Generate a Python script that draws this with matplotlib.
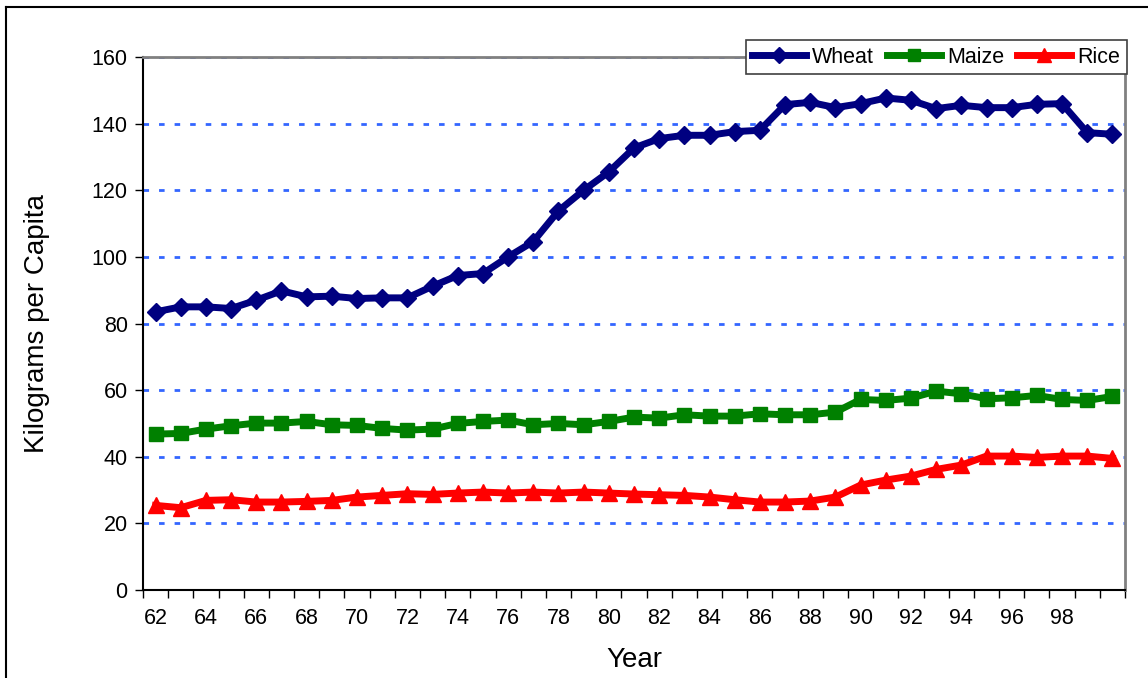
import matplotlib
matplotlib.use("Agg")
from matplotlib import pyplot as plt
from matplotlib.lines import Line2D
import numpy as np

plt.rcParams['font.family'] = ['Liberation Sans', 'DejaVu Sans']

years = list(range(62, 101))
wheat = [83.5, 85.0, 85.0, 84.5, 87.0, 89.8, 88.0, 88.2, 87.5, 87.7,
         87.7, 91.2, 94.4, 95.0, 100.0, 104.6, 113.8, 120.0, 125.5, 132.7,
         135.5, 136.5, 136.5, 137.6, 138.0, 145.7, 146.4, 144.8, 146.0, 147.7,
         147.0, 144.5, 145.5, 144.8, 144.8, 145.8, 146.0, 137.3, 136.8]
maize = [46.8, 47.0, 48.3, 49.3, 50.1, 50.1, 50.6, 49.6, 49.4, 48.5,
         48.0, 48.3, 50.0, 50.6, 51.0, 49.6, 50.0, 49.6, 50.6, 51.9,
         51.6, 52.6, 52.2, 52.2, 52.9, 52.6, 52.6, 53.4, 57.2, 56.9,
         57.6, 59.7, 58.9, 57.4, 57.7, 58.4, 57.2, 56.9, 58.1]
rice = [25.4, 24.7, 26.9, 27.1, 26.4, 26.4, 26.6, 26.9, 27.9, 28.4,
        28.9, 28.7, 29.1, 29.4, 29.1, 29.4, 29.1, 29.4, 29.1, 28.8,
        28.6, 28.4, 27.9, 27.1, 26.4, 26.4, 26.7, 27.9, 31.5, 33.0,
        34.2, 36.2, 37.5, 40.2, 40.2, 39.8, 40.2, 40.2, 39.5]
x_labels = [str(y) for y in range(62, 99, 2)]
y_ticks = list(range(0, 161, 20))

fig = plt.figure(figsize=(11.48, 6.78), dpi=100)
ax = fig.add_axes([143 / 1148, 88 / 678, 982 / 1148, 533 / 678])

# outer chart frame (only left and top visible)
fig.add_artist(Line2D([6 / 1148, 6 / 1148], [0, 1 - 7 / 678], color='black', lw=1.5, transform=fig.transFigure))
fig.add_artist(Line2D([6 / 1148, 1], [1 - 7 / 678, 1 - 7 / 678], color='black', lw=1.5, transform=fig.transFigure))

for yv in y_ticks[1:]:
    ax.axhline(yv, color='#3366FF', lw=2, linestyle=(0, (2, 3.6)), zorder=1)

ax.plot(years, wheat, color='#000080', lw=5, marker='D', markersize=9.5, label='Wheat', zorder=3)
ax.plot(years, maize, color='#008000', lw=5, marker='s', markersize=10, label='Maize', zorder=3)
ax.plot(years, rice, color='#FF0000', lw=5, marker='^', markersize=11.5, label='Rice', zorder=3)

ax.set_xlim(61.5, 100.5)
ax.set_ylim(0, 160)
ax.set_yticks(y_ticks)
ax.set_xticks(np.arange(61.5, 101, 1))
ax.set_xticklabels([])
ax.set_xticks(list(range(62, 99, 2)), minor=True)
ax.set_xticklabels(x_labels, minor=True)
ax.tick_params(axis='x', which='major', direction='out', length=6, width=1, colors='black')
ax.tick_params(axis='x', which='minor', length=0, labelsize=15.5, pad=13)
ax.tick_params(axis='y', direction='out', length=6, width=1, labelsize=15.5, pad=5)

for side in ['left', 'bottom']:
    ax.spines[side].set_color('black')
    ax.spines[side].set_linewidth(1.5)
for side in ['top', 'right']:
    ax.spines[side].set_color('#808080')
    ax.spines[side].set_linewidth(2)

ax.set_xlabel('Year', fontsize=20, labelpad=13)
ax.set_ylabel('Kilograms per Capita', fontsize=20, labelpad=30)

leg = ax.legend(loc='upper right', bbox_to_anchor=(1.002, 1.031), borderaxespad=0, ncol=3,
                fontsize=15.5, handlelength=2.5, handletextpad=0.3, columnspacing=0.6,
                borderpad=0.3, numpoints=1, fancybox=False, framealpha=1, markerscale=0.85)
leg.get_frame().set_edgecolor('#404040')
leg.get_frame().set_linewidth(1.2)

fig.savefig('out.png', dpi=100)
